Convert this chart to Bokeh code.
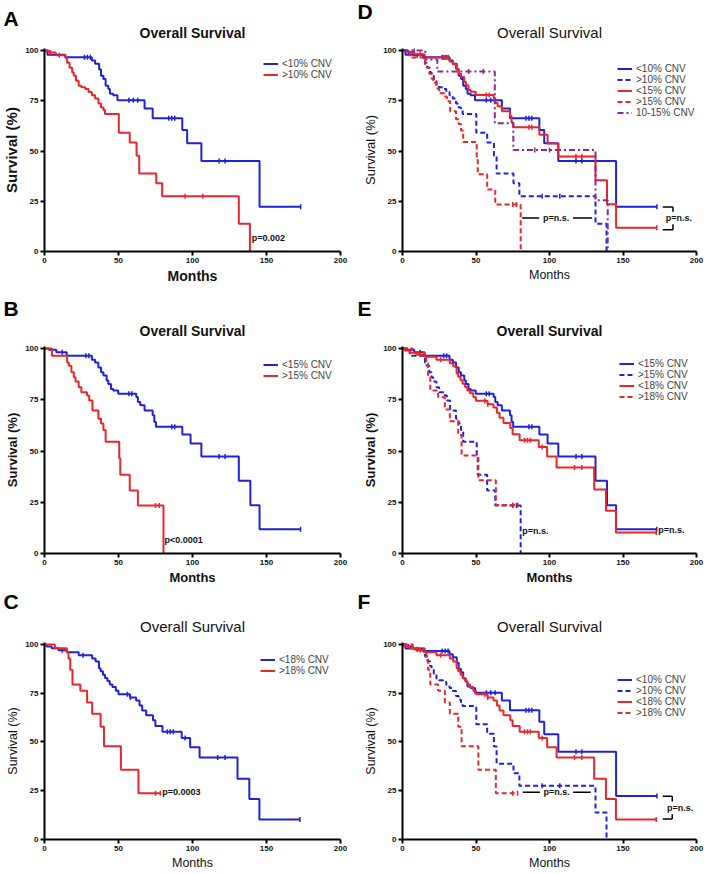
import math
from bokeh.plotting import figure
from bokeh.layouts import gridplot
from bokeh.models import Range1d, FixedTicker, Legend, LegendItem, Title
from bokeh.core.properties import value
from bokeh.embed import file_html
from bokeh.resources import INLINE

FONT = "Liberation Sans"

x_ticks = [0, 50, 100, 150, 200]
y_ticks = [0, 25, 50, 75, 100]

# ---- Kaplan-Meier step data (months, survival %) ----
lt10_t = [0, 2, 14, 32, 34.2, 36.9, 38.2, 39.8, 41.3, 43.1, 44.2, 46.4, 49.3, 67.6, 73.1, 93.1, 96.4, 106, 145.3, 173.1]
lt10_s = [100, 97.9, 96.6, 95, 93.4, 90.6, 87.4, 85.8, 82.5, 80.9, 78.5, 77.7, 75.2, 71.2, 66.3, 60.4, 53.9, 45.0, 22.3, 22.3]
lt10_c = [27, 29, 31, 57, 60, 63, 84, 86, 88, 118, 122, 173.1]

gt10_t = [0, 3, 7.6, 14.2, 15.3, 16.9, 18.7, 19.8, 21.3, 23.1, 24.9, 27.6, 29.8, 32, 34.2, 36.4, 38.2, 39.8, 40.9, 50.2, 57.6, 62.2, 64, 75.5, 79.5, 131.3, 138.8]
gt10_s = [100, 99, 97.6, 96.3, 93.9, 91.4, 89, 87.4, 85, 82.5, 81.7, 80.9, 79.3, 77.7, 76.1, 73.6, 71.7, 70.4, 68.4, 59.1, 54.2, 47.7, 38.8, 34, 27.5, 13.8, 0]
gt10_c = [4, 10, 95, 107]

lt15_t = [0, 3, 8, 15, 32, 34.2, 36.4, 38.2, 39.8, 42, 43.1, 44.9, 46.4, 49.8, 62, 63.1, 64.7, 67.6, 73.1, 74.2, 75.3, 93.1, 98.7, 106, 131.3, 139.1, 145.3, 173]
lt15_s = [100, 99.4, 98.2, 96.5, 94.5, 93.2, 90.8, 88.4, 86.8, 84.4, 82.7, 80.3, 79.5, 77.9, 76.3, 73.9, 72.3, 69.8, 67.4, 64.2, 61.8, 58.1, 53.7, 47.3, 35.5, 23.5, 11.8, 11.8]
lt15_c = [12, 28, 30, 57, 59, 86, 88, 118, 122, 173]

gt15_t = [0, 5, 15.3, 16.4, 18.2, 19.8, 20.9, 23.1, 24.9, 28.7, 30.2, 32.4, 36.4, 38.2, 39.8, 41.3, 50.5, 51.2, 57.6, 63.1, 80.4]
gt15_s = [100, 96.5, 93.2, 91.6, 88.4, 86, 83.9, 81.1, 78.7, 77.1, 74.7, 69.8, 65.8, 63.4, 60.2, 54.5, 46.5, 38.4, 30.8, 23.4, 0]
gt15_c = [75, 77.5]

lt18_t = [0, 1.4, 4.8, 9.4, 15.1, 23.1, 32.2, 34.5, 36.8, 37.9, 39.5, 40.9, 42.5, 44.1, 45.9, 48.2, 50, 57.8, 61.9, 64.2, 66, 68.7, 73.3, 74.9, 79.7, 92.7, 98.4, 104.8, 130.4, 138.4, 145.2, 172.6]
lt18_s = [100, 99, 98, 97, 96, 94.5, 92.8, 91.2, 87.8, 86.2, 84.5, 82.8, 81.2, 79.5, 78.2, 76.2, 74.5, 72.8, 71.2, 68.7, 66.2, 63.7, 61.2, 58.2, 55.3, 52, 47.3, 42, 31.2, 20.8, 10.3, 10.3]
lt18_c = [12, 26, 56, 58, 83, 85, 87, 95, 117, 122, 172.6]

gt18_t = [0, 7, 15.1, 16.2, 17.4, 18.9, 24.2, 28.8, 32.2, 37.9, 40.2, 51.6, 63.5, 78.3]
gt18_s = [100, 98, 96, 92.8, 87, 79.5, 76.2, 70.3, 64.5, 57.8, 47.8, 35.7, 23.7, 23.7]
gt18_c = [75, 78.3]

mid_t = [0, 15.5, 23.7, 62.8, 75.4, 131.3, 139.6]
mid_s = [100, 95.5, 89.5, 63.8, 50.5, 25.5, 0]
mid_c = [8, 45, 55, 90, 100]

BLUE = "#1f22d8"
RED = "#e8262b"
PURPLE = "#8b2b8b"
SOLID = "solid"
DASH = "5 3"
DASHDOT = "6 3 2 3"

CURVES = {
    "lt10": ("<10% CNV", lt10_t, lt10_s, lt10_c),
    "gt10": (">10% CNV", gt10_t, gt10_s, gt10_c),
    "lt15": ("<15% CNV", lt15_t, lt15_s, lt15_c),
    "gt15": (">15% CNV", gt15_t, gt15_s, gt15_c),
    "lt18": ("<18% CNV", lt18_t, lt18_s, lt18_c),
    "gt18": (">18% CNV", gt18_t, gt18_s, gt18_c),
    "mid": ("10-15% CNV", mid_t, mid_s, mid_c),
}

COLS = [dict(width=354, left=41, right=14, letter=0), dict(width=355, left=48, right=13, letter=3)]
ROWS = [dict(height=290, top=48, bottom=39), dict(height=298, top=56, bottom=35), dict(height=286, top=54, bottom=35)]
ITEM_H = 11


def surv_at(ts, ss, t):
    v = ss[0]
    for ti, si in zip(ts, ss):
        if ti <= t:
            v = si
    return v


def panel(letter, row, col, bold, ylab_size, xlab_size, title_size, letter_so, series, leg_x, leg_top, texts, segs):
    c = COLS[col]
    r = ROWS[row]
    fh = r["height"] - r["top"] - r["bottom"]
    p = figure(width=c["width"], height=r["height"], x_range=Range1d(0, 200), y_range=Range1d(0, 101),
               output_backend="svg", toolbar_location=None, title=None,
               min_border_left=c["left"], min_border_right=c["right"],
               min_border_top=r["top"], min_border_bottom=r["bottom"])
    p.outline_line_color = None
    p.grid.visible = False
    style = "bold" if bold else "normal"
    p.add_layout(Title(text="Overall Survival", align="center", vertical_align="top", text_font=FONT,
                       text_font_size=title_size, text_font_style=style, standoff=12,
                       text_color="#111111"), "above")
    p.add_layout(Title(text=letter, align="left", vertical_align="middle", offset=-c["left"] + c["letter"],
                       text_font=FONT, text_font_size="21px", text_font_style="bold", standoff=letter_so,
                       text_color="black"), "above")

    p.xaxis.ticker = FixedTicker(ticks=x_ticks)
    p.yaxis.ticker = FixedTicker(ticks=y_ticks)
    p.xaxis.axis_label = "Months"
    p.yaxis.axis_label = "Survival (%)"
    p.xaxis.axis_label_text_font_size = xlab_size
    p.yaxis.axis_label_text_font_size = ylab_size
    for ax in (p.xaxis[0], p.yaxis[0]):
        ax.axis_line_width = 2
        ax.axis_line_color = "black"
        ax.major_tick_line_width = 2
        ax.major_tick_in = 0
        ax.major_tick_out = 4
        ax.minor_tick_line_color = None
        ax.major_label_text_font = FONT
        ax.major_label_text_font_size = "8px"
        ax.major_label_text_font_style = "bold"
        ax.major_label_text_color = "#111111"
        ax.major_label_standoff = 2
        ax.axis_label_text_font = FONT
        ax.axis_label_text_font_style = style
        ax.axis_label_text_color = "#111111"
        ax.axis_label_standoff = 2

    items = []
    for key, color, dash in series:
        label, ts, ss, cens = CURVES[key]
        rr = p.step(ts, ss, mode="after", line_color=color, line_width=2, line_dash=dash)
        cy = [surv_at(ts, ss, t) for t in cens]
        p.scatter(cens, cy, marker="dash", angle=math.pi / 2, size=5, line_color=color, line_width=1.5)
        items.append(LegendItem(label=label, renderers=[rr]))

    n = len(items)
    leg_h = n * ITEM_H
    vy = fh - (leg_top - ITEM_H / 2) - leg_h
    legend = Legend(items=items, location=(leg_x, vy), border_line_color=None, background_fill_alpha=0,
                    label_text_font=FONT, label_text_font_size="10px", label_height=ITEM_H, glyph_height=ITEM_H,
                    glyph_width=15, label_standoff=4, spacing=0, padding=0, margin=0)
    p.add_layout(legend)

    for (tx, ty, txt, align) in texts:
        p.text(x=[tx], y=[ty], text=[txt], text_font=value(FONT), text_font_size="9px",
               text_baseline="middle", text_align=align, text_color="#111111", text_font_style="bold")
    if segs:
        p.segment(x0=[s[0] for s in segs], y0=[s[1] for s in segs], x1=[s[2] for s in segs],
                  y1=[s[3] for s in segs], line_color="black", line_width=1.5)
    return p


pA = panel("A", 0, 0, True, "15px", "14px", "14px", -24,
           [("lt10", BLUE, SOLID), ("gt10", RED, SOLID)], 219, 15,
           [(140, 6.6, "p=0.002", "left")], [])
pD = panel("D", 0, 1, False, "13px", "12.5px", "15px", -12,
           [("lt10", BLUE, SOLID), ("gt10", BLUE, DASH), ("lt15", RED, SOLID), ("gt15", RED, DASH),
            ("mid", PURPLE, DASHDOT)], 215, 20,
           [(104.5, 16.7, "p=n.s.", "center"), (179, 16.7, "p=n.s.", "left")],
           [(81.4, 16.7, 93, 16.7), (116, 16.7, 129, 16.7),
            (177, 22.2, 184, 22.2), (184, 22.2, 184, 19.8), (184, 13.6, 184, 10.8), (177, 10.8, 184, 10.8)])
pB = panel("B", 1, 0, True, "13px", "13px", "14px", -8,
           [("lt15", BLUE, SOLID), ("gt15", RED, SOLID)], 219, 18,
           [(81, 6.6, "p<0.0001", "left")], [])
pE = panel("E", 1, 1, True, "13px", "13px", "14px", -8,
           [("lt15", BLUE, SOLID), ("gt15", BLUE, DASH), ("lt18", RED, SOLID), ("gt18", RED, DASH)], 217, 17,
           [(81.5, 11, "p=n.s.", "left"), (174, 11.5, "p=n.s.", "left")], [])
pC = panel("C", 2, 0, False, "12.5px", "12.5px", "15px", -4,
           [("lt18", BLUE, SOLID), ("gt18", RED, SOLID)], 216, 17,
           [(79.5, 24.2, "p=0.0003", "left")], [])
pF = panel("F", 2, 1, False, "12.5px", "12.5px", "15px", -4,
           [("lt10", BLUE, SOLID), ("gt10", BLUE, DASH), ("lt18", RED, SOLID), ("gt18", RED, DASH)], 215, 37,
           [(104.8, 24.2, "p=n.s.", "center"), (180, 16.2, "p=n.s.", "left")],
           [(81.8, 24.2, 93.5, 24.2), (116, 24.2, 128, 24.2),
            (177, 22.2, 183.5, 22.2), (183.5, 22.2, 183.5, 19.5), (183.5, 13, 183.5, 10.5), (177, 10.5, 183.5, 10.5)])

grid = gridplot([[pA, pD], [pB, pE], [pC, pF]], toolbar_location=None)

open("out.html", "w").write(file_html(grid, INLINE))
